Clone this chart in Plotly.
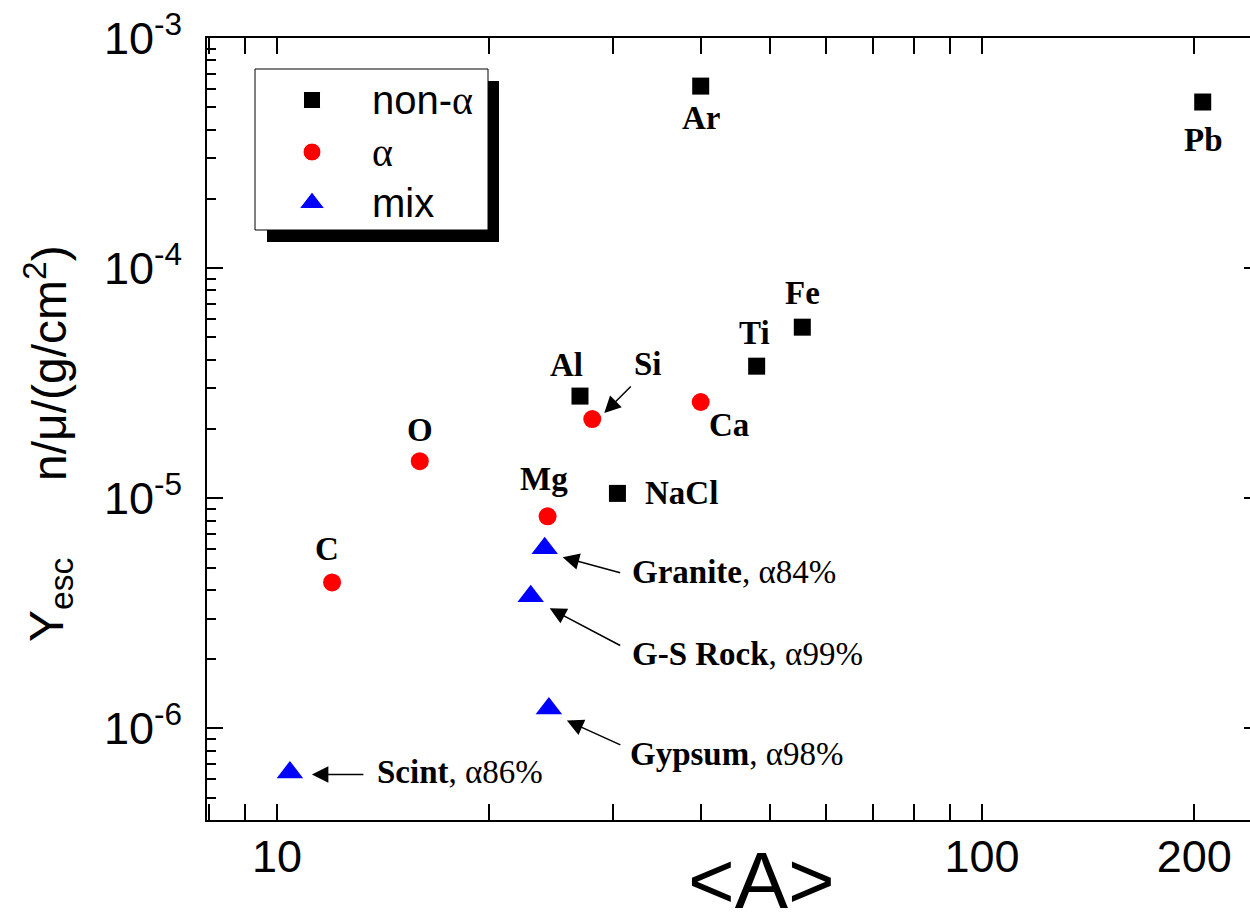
import numpy as np
import plotly.graph_objects as go

# ---------------- data ----------------
nonalpha_names = ["Al", "NaCl", "Ar", "Ti", "Fe", "Pb"]
nonalpha_A = [26.9, 30.4, 39.9, 47.9, 55.6, 205.6]
nonalpha_Y = [2.78e-5, 1.05e-5, 6.18e-4, 3.75e-5, 5.54e-5, 5.27e-4]

alpha_names = ["C", "O", "Mg", "Si", "Ca"]
alpha_A = [11.97, 15.94, 24.2, 28.0, 39.9]
alpha_Y = [4.31e-6, 1.45e-5, 8.35e-6, 2.21e-5, 2.62e-5]

mix_names = ["Scint", "G-S Rock", "Granite", "Gypsum"]
mix_alpha_frac = ["86%", "99%", "84%", "98%"]
mix_A = [10.43, 22.9, 23.97, 24.3]
mix_Y = [6.44e-7, 3.75e-6, 6.07e-6, 1.22e-6]

series_names = ["non-α", "α", "mix"]

x_tickvals = [10, 100, 200]
x_ticktext = ["10", "100", "200"]
x_minorvals = [8, 9, 20, 30, 40, 50, 60, 70, 80, 90]
y_tickvals = [1e-6, 1e-5, 1e-4, 1e-3]
y_ticktext = ["10<sup>-6</sup>", "10<sup>-5</sup>", "10<sup>-4</sup>", "10<sup>-3</sup>"]
y_minorvals = [m * 10.0 ** e for e in (-7, -6, -5, -4) for m in range(2, 10)]

# ---------------- layout geometry / styles ----------------
W, H = 1250, 919
L, R, T, B = 207, 0, 38, 99
PW, PH = W - L - R, H - T - B
X_RANGE = [0.9007, 2.3801]
Y_RANGE = [np.log10(4e-7), -3.0]

SANS = "Liberation Sans, Arial, sans-serif"
SERIF = "Liberation Serif, Times New Roman, serif"

def pxx(px):
    return (px - L) / PW

def pxy(py):
    return (H - B - py) / PH

# label offsets (pixels) relative to each point
label_shift = {"Al": (-13, 31), "NaCl": (64, 0), "Ar": (0, -32), "Ti": (-2, 33),
               "Fe": (0, 34), "Pb": (1, -38), "C": (-5, 33), "O": (0, 31),
               "Mg": (-4, 37), "Ca": (28, -23), "Si": (56, 55)}
mix_text_shift = {"Scint": (85, 0), "G-S Rock": (99, -58), "Granite": (85, -24), "Gypsum": (79, -45)}
# (head xshift, head yshift, tail dx, tail dy)
arrow_spec = {"Si": (12, 6, 28, -28), "Scint": (22, -2, 53, 0), "G-S Rock": (19, -12, 72, 38),
              "Granite": (18, -9, 59, 16), "Gypsum": (18, -12, 55, 25)}

fig = go.Figure()

fig.add_trace(go.Scatter(x=nonalpha_A, y=nonalpha_Y, mode="markers", name=series_names[0],
                         marker=dict(symbol="square", size=17, color="black", opacity=1),
                         showlegend=False))
fig.add_trace(go.Scatter(x=alpha_A, y=alpha_Y, mode="markers", name=series_names[1],
                         marker=dict(symbol="circle", size=18, color="red", opacity=1),
                         showlegend=False))
fig.add_trace(go.Scatter(x=mix_A, y=mix_Y, mode="markers", name=series_names[2],
                         marker=dict(symbol="triangle-up", size=23, color="blue", opacity=1),
                         showlegend=False))
# empty trace so the right-hand tick axis (no frame line) is drawn
fig.add_trace(go.Scatter(x=[], y=[], yaxis="y3", showlegend=False, hoverinfo="skip"))

annotations = []
lab_font = dict(family=SERIF, size=33, color="black")

for names, As, Ys in ((nonalpha_names, nonalpha_A, nonalpha_Y), (alpha_names, alpha_A, alpha_Y)):
    for n, a, y in zip(names, As, Ys):
        dx, dy = label_shift[n]
        annotations.append(dict(x=np.log10(a), y=np.log10(y), xref="x", yref="y",
                                text="<b>%s</b>" % n, showarrow=False, font=lab_font,
                                xshift=dx, yshift=dy, xanchor="center", yanchor="middle"))

for n, fr, a, y in zip(mix_names, mix_alpha_frac, mix_A, mix_Y):
    dx, dy = mix_text_shift[n]
    annotations.append(dict(x=np.log10(a), y=np.log10(y), xref="x", yref="y",
                            text="<b>%s</b>, α%s" % (n, fr), showarrow=False, font=lab_font,
                            xshift=dx, yshift=dy, xanchor="left", yanchor="middle"))

all_pts = dict(zip(nonalpha_names + alpha_names + mix_names,
                   zip(nonalpha_A + alpha_A + mix_A, nonalpha_Y + alpha_Y + mix_Y)))
for n, (hx, hy, tdx, tdy) in arrow_spec.items():
    a, y = all_pts[n]
    annotations.append(dict(x=np.log10(a), y=np.log10(y), xref="x", yref="y", text="",
                            showarrow=True, arrowhead=2, arrowsize=2.2, arrowwidth=1.5,
                            arrowcolor="black", ax=tdx, ay=tdy, axref="pixel", ayref="pixel",
                            xshift=hx, yshift=hy, standoff=0, startstandoff=0))

# axis titles
annotations.append(dict(x=pxx(761), y=pxy(880), xref="paper", yref="paper", text="&lt;A&gt;",
                        showarrow=False, font=dict(family=SANS, size=80, color="black"),
                        xanchor="center", yanchor="middle"))
annotations.append(dict(x=pxx(46), y=pxy(363), xref="paper", yref="paper",
                        text="n/μ/(g/cm<sup>2</sup>)", textangle=-90,
                        showarrow=False, font=dict(family=SANS, size=48, color="black"),
                        xanchor="center", yanchor="middle"))
annotations.append(dict(x=pxx(50), y=pxy(600), xref="paper", yref="paper",
                        text="Y<sub>esc</sub>", textangle=-90,
                        showarrow=False, font=dict(family=SANS, size=48, color="black"),
                        xanchor="center", yanchor="middle"))

# ---------------- hand-built legend (pixel axes overlay) ----------------
leg_rows = [100, 152, 203]
fig.add_trace(go.Scatter(x=[312, 312, 312], y=leg_rows, mode="markers", xaxis="x2", yaxis="y2",
                         marker=dict(symbol=["square", "circle", "triangle-up"],
                                     color=["black", "red", "blue"], size=[17, 18, 22], opacity=1),
                         showlegend=False, hoverinfo="skip"))
leg_texts = ["non-<span style='font-family:Liberation Serif'>α</span>",
             "<span style='font-family:Liberation Serif'>α</span>", "mix"]
for t, yy in zip(leg_texts, leg_rows):
    annotations.append(dict(x=370, y=yy, xref="x2", yref="y2", text=t, showarrow=False,
                            font=dict(family=SANS, size=40, color="black"),
                            xanchor="left", yanchor="middle"))

shapes = [
    dict(type="rect", xref="x2", yref="y2", x0=267, x1=499, y0=81, y1=242,
         fillcolor="black", line=dict(width=0), layer="below"),
    dict(type="rect", xref="x2", yref="y2", x0=255, x1=488, y0=69, y1=230,
         fillcolor="white", line=dict(color="black", width=1), layer="below"),
]

tick_common = dict(ticks="inside", ticklen=16, tickwidth=2, tickcolor="black",
                   tickfont=dict(family=SANS, size=45, color="black"))
y_minor = dict(tickmode="array", tickvals=y_minorvals, ticks="inside", ticklen=9,
               tickwidth=2, tickcolor="black")

fig.update_layout(
    width=W, height=H,
    margin=dict(l=L, r=R, t=T, b=B, pad=0),
    paper_bgcolor="white", plot_bgcolor="white",
    showlegend=False,
    xaxis=dict(type="log", range=X_RANGE, tickmode="array", tickvals=x_tickvals, ticktext=x_ticktext,
               ticklabelstandoff=-4, showgrid=False, zeroline=False, showline=True,
               linecolor="black", linewidth=2, mirror="allticks",
               minor=dict(tickmode="array", tickvals=x_minorvals, ticks="inside", ticklen=8,
                          tickwidth=2, tickcolor="black"),
               **tick_common),
    yaxis=dict(type="log", range=Y_RANGE, tickmode="array", tickvals=y_tickvals, ticktext=y_ticktext,
               ticklabelstandoff=14, showgrid=False, zeroline=False, showline=True,
               linecolor="black", linewidth=2, mirror=False,
               minor=y_minor, **tick_common),
    yaxis3=dict(type="log", range=Y_RANGE, overlaying="y", side="right", anchor="x",
                tickmode="array", tickvals=y_tickvals, showticklabels=False,
                showgrid=False, zeroline=False, showline=False,
                ticks="inside", ticklen=6, tickwidth=2, tickcolor="black"),
    xaxis2=dict(range=[L, W - R], overlaying="x", anchor="y2", visible=False, fixedrange=True),
    yaxis2=dict(range=[H - B, T], overlaying="y", anchor="x2", visible=False, fixedrange=True),
    annotations=annotations,
    shapes=shapes,
)

fig.write_html("out.html", post_script="document.body.style.margin='0px';",
               config={"displayModeBar": False})
